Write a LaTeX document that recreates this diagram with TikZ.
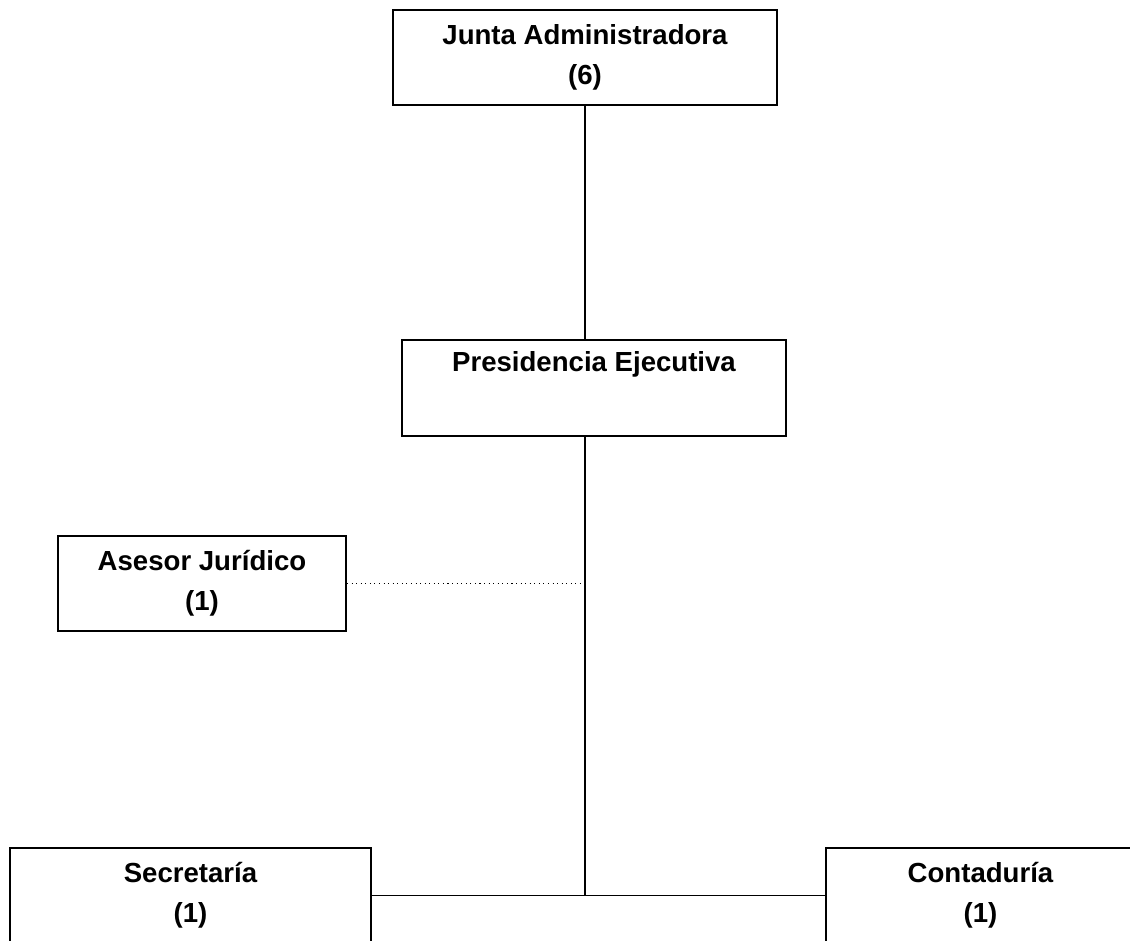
\documentclass[tikz,border=0pt]{standalone}
\usepackage{fontspec}
\setmainfont{Liberation Sans}
\begin{document}
\begin{tikzpicture}[
  unit/.style={draw, line width=1.1pt, align=center, font=\bfseries\fontsize{15.7}{22.8}\selectfont, inner sep=0pt},
  link/.style={line width=1.1pt},
  advice/.style={line width=0.6pt, dotted}]
\clip (0,0) rectangle (22.6,-18.82);
\node[unit, minimum width=7.68cm, minimum height=1.90cm] (n1) at (11.70,-1.15) {Junta Administradora\\(6)};
\node[unit, minimum width=7.68cm, minimum height=1.92cm] (n2) at (11.88,-7.76) {Presidencia Ejecutiva\\\strut};
\node[unit, minimum width=5.76cm, minimum height=1.90cm] (n3) at (4.04,-11.67) {Asesor Jurídico\\(1)};
\node[unit, minimum width=7.22cm, minimum height=1.90cm] (n4) at (3.81,-17.91) {Secretaría\\(1)};
\node[unit, minimum width=6.18cm, minimum height=1.90cm] (n5) at (19.61,-17.91) {Contaduría\\(1)};
\coordinate (j) at (n4.east -| n1.south);
\draw[link] (n1.south) -- (n1.south |- n2.north);
\draw[link] (n1.south |- n2.south) -- (j);
\draw[link] (n4.east) -- (n5.west);
\draw[advice] (n3.east) -- (n3.east -| n1.south);
\end{tikzpicture}
\end{document}
